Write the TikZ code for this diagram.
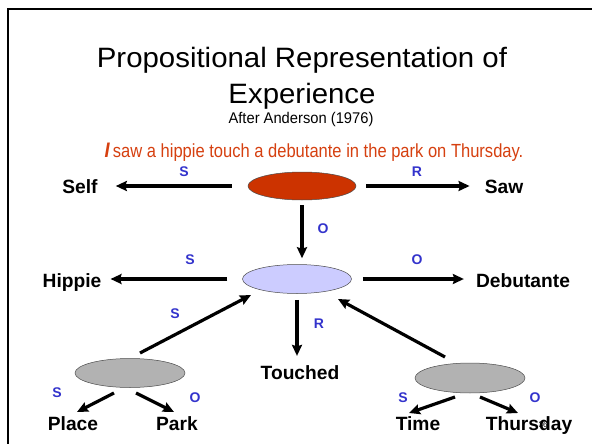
\documentclass[tikz,border=0pt]{standalone}
\usepackage{fontspec}
\setmainfont{Liberation Sans}
\newfontfamily\titlefont{Liberation Sans}[FakeStretch=1.05]
\newfontfamily\condfont{Liberation Sans}[FakeStretch=0.87]
\newfontfamily\subfont{Liberation Sans}[FakeStretch=0.95]
\usetikzlibrary{arrows.meta,calc,shapes.geometric}
\definecolor{ellred}{RGB}{204,51,0}
\definecolor{txtred}{RGB}{214,64,16}
\definecolor{lilac}{RGB}{204,204,255}
\definecolor{ellgray}{RGB}{178,178,178}
\definecolor{lblblue}{RGB}{51,51,204}
\tikzset{
  ell/.style={ellipse, draw=black!70, line width=0.5pt, inner sep=0pt},
  word/.style={inner sep=0pt, anchor=base, font=\fontsize{19.2}{21}\selectfont\bfseries},
  lbl/.style={inner sep=0pt, anchor=base, text=lblblue, font=\fontsize{14}{16}\selectfont\bfseries},
  arr/.style={line width=3.2pt, -{Stealth[length=11pt,width=10pt,inset=1.5pt]}},
}
\begin{document}
\begin{tikzpicture}[x=1pt,y=-1pt]
\useasboundingbox (0,0) rectangle (592,444);
\fill[white] (0,0) rectangle (592,444);
\draw[line width=2pt] (592,9) -- (8,9) -- (8,444);
% title
\node[inner sep=0pt, anchor=base, font=\fontsize{28}{30}\titlefont] (t1) at (302,68) {Propositional Representation of};
\node[inner sep=0pt, anchor=base, font=\fontsize{28}{30}\titlefont] (t2) at (302,103) {Experience};
\node[inner sep=0pt, anchor=base, font=\fontsize{15.5}{17}\subfont] (t3) at (301,123) {After Anderson (1976)};
\node[inner sep=0pt, anchor=base, text=txtred, font=\fontsize{19}{21}\condfont] (t4) at (314,157) {{\fontsize{21}{22}\selectfont\bfseries\itshape I}\,saw a hippie touch a debutante in the park on Thursday.};
% ellipses
\node[ell, fill=ellred, minimum width=108pt, minimum height=28pt] (top) at (302,186) {};
\node[ell, fill=lilac, minimum width=109pt, minimum height=29pt] (mid) at (297,279) {};
\node[ell, fill=ellgray, minimum width=110pt, minimum height=29pt] (lg) at (130,373) {};
\node[ell, fill=ellgray, minimum width=110pt, minimum height=30pt] (rg) at (470,378) {};
% words
\node[word] (self) at (80,193) {Self};
\node[word] (saw) at (504,193) {Saw};
\node[word] (hippie) at (72,287) {Hippie};
\node[word] (deb) at (523,287) {Debutante};
\node[word] (touched) at (300,379) {Touched};
\node[word] (place) at (73,430) {Place};
\node[word] (park) at (177,430) {Park};
\node[word] (time) at (418,430) {Time};
\node[word] (thu) at (529,430) {Thursday};
\node[inner sep=0pt, anchor=base, font=\fontsize{8}{9}\selectfont] (num) at (543,427) {36};
% labels
\node[lbl] (l1) at (184,176) {S};
\node[lbl] (l2) at (417,176) {R};
\node[lbl] (l3) at (323,233) {O};
\node[lbl] (l4) at (190,264) {S};
\node[lbl] (l5) at (417,264) {O};
\node[lbl] (l6) at (319,328) {R};
\node[lbl] (l7) at (175,318) {S};
\node[lbl] (l8) at (57,397) {S};
\node[lbl] (l9) at (195,402) {O};
\node[lbl] (l10) at (403,402) {S};
\node[lbl] (l11) at (535,402) {O};
% arrow end points
\coordinate (lgA) at (140,353);
\coordinate (midA) at (251,295);
\coordinate (rgA) at (445,357);
\coordinate (midB) at (338,299);
\coordinate (lgP) at (114,393);
\coordinate (placeT) at (77,412);
\coordinate (lgQ) at (136,393);
\coordinate (parkT) at (174,412);
\coordinate (rgP) at (455,397);
\coordinate (timeT) at (409,413);
\coordinate (rgQ) at (480,397);
\coordinate (thuT) at (518,413);
% arrows
\draw[arr, shorten <=16pt, shorten >=18pt] (top.west) -- (top.west -| self.east);
\draw[arr, shorten <=10pt, shorten >=15pt] (top.east) -- (top.east -| saw.west);
\draw[arr, shorten <=5pt, shorten >=6pt] (top.south) -- (top.south |- mid.north);
\draw[arr, shorten <=15pt, shorten >=9pt] (mid.west) -- (mid.west -| hippie.east);
\draw[arr, shorten <=11pt, shorten >=12pt] (mid.east) -- (mid.east -| deb.west);
\draw[arr, shorten <=6pt, shorten >=9pt] (mid.south) -- (mid.south |- touched.north);
\draw[arr] (lgA) -- (midA);
\draw[arr] (rgA) -- (midB);
\draw[arr] (lgP) -- (placeT);
\draw[arr] (lgQ) -- (parkT);
\draw[arr] (rgP) -- (timeT);
\draw[arr] (rgQ) -- (thuT);
\end{tikzpicture}
\end{document}
